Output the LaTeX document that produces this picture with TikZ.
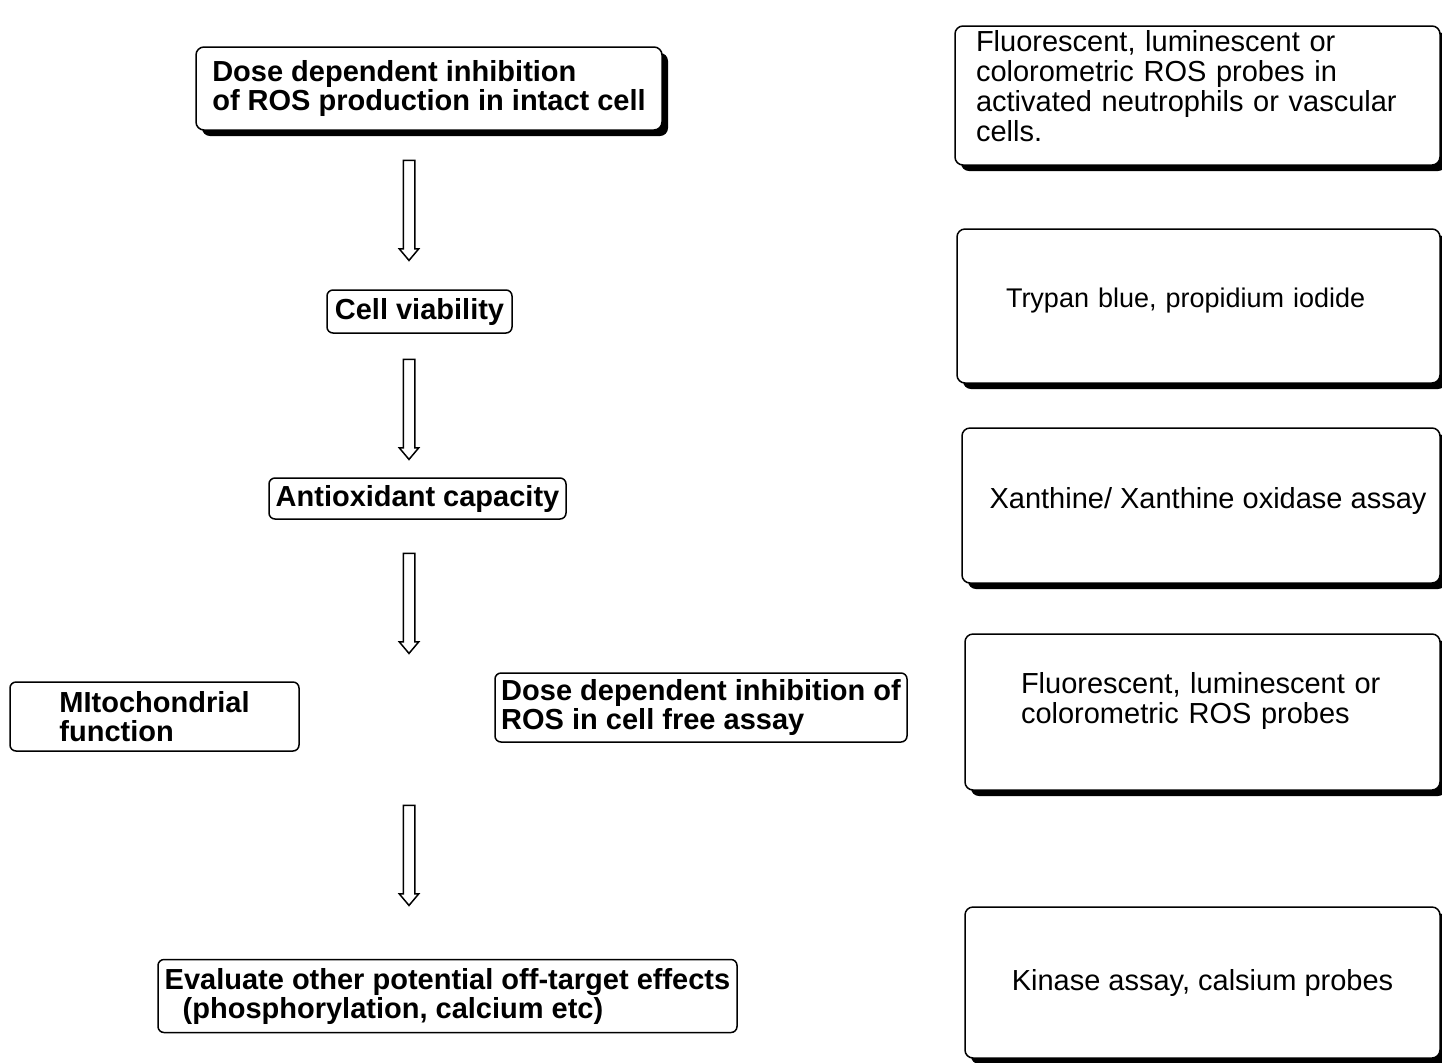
\documentclass[tikz,border=0pt]{standalone}
\usepackage{fontspec}
\setmainfont{Liberation Sans}
\usetikzlibrary{shapes.arrows, shadows, positioning}
\newcommand\flowtxt{\fontsize{14.5}{14.5}\selectfont}
\newcommand\probetxt{\fontsize{14.5}{15}\selectfont}

\begin{document}
\begin{tikzpicture}[x=0.5pt, y=-0.5pt,
        hd/.style={draw, line width=0.75pt, fill=white, rounded corners=4pt, align=left, font=\flowtxt\bfseries, drop shadow={shadow xshift=3pt, shadow yshift=-3pt, fill=black, opacity=1}},
        sm/.style={draw, line width=0.75pt, fill=white, rounded corners=3pt, align=left, inner xsep=2pt, inner ysep=2pt, font=\flowtxt\bfseries},
        probe/.style={draw, line width=0.75pt, fill=white, rounded corners=4pt, align=left, inner ysep=2pt, font=\probetxt, drop shadow={shadow xshift=3pt, shadow yshift=-3pt, fill=black, opacity=1}},
        harr/.style={single arrow, draw, line width=0.75pt, fill=white, shape border rotate=270, inner sep=2.5pt, minimum width=9pt, minimum height=50pt, single arrow head extend=2pt, single arrow tip angle=80}]
        \useasboundingbox (0,0) rectangle (1442,1062);
        \node[hd, minimum width=233pt, minimum height=41.5pt] (ros) at (429,88.5) {Dose dependent inhibition\\of ROS production in intact cell};
        \node[sm, minimum width=92.5pt, minimum height=21.5pt] (via) at (419.5,311.5) {Cell viability};
        \node[sm, minimum width=148.5pt, minimum height=20.5pt] (anti) at (417.5,498.5) {Antioxidant capacity};
        \node[sm, minimum width=144.5pt, minimum height=34.5pt] (mito) at (154.5,716.5) {MItochondrial\\function};
        \node[sm, minimum width=206pt, minimum height=34.5pt] (free) at (701,707.5) {Dose dependent inhibition of\\ROS in cell free assay};
        \node[sm, minimum width=289.5pt, minimum height=36.5pt] (off) at (447.5,996) {Evaluate other potential off-target effects\\\hspace*{9pt}(phosphorylation, calcium etc)};

        \node[harr] (a1) at (409,207) {};
        \node[harr] (a2) at (409,406) {};
        \node[harr] (a3) at (409,600) {};
        \node[harr] (a4) at (409,852) {};

        \node[probe, text width=221.5pt, inner xsep=10.5pt, minimum height=67.5pt, text depth=55pt] (fl) at (1197.5,95.5) {Fluorescent, luminescent or\\colorometric ROS probes in\\activated neutrophils or vascular\\cells.};
        \node[probe, text width=192.5pt, inner xsep=24.5pt, minimum height=77pt, text depth=8pt, font=\fontsize{13.5}{15}\selectfont] (try) at (1198.5,306) {Trypan blue, propidium iodide};
        \node[probe, minimum width=239pt, minimum height=77.5pt, text depth=8pt] (xan) at (1201,505.5) {\hspace*{7pt}Xanthine/ Xanthine oxidase assay};
        \node[probe, text width=181.5pt, inner xsep=28pt, minimum height=78pt, text depth=29pt] (flc) at (1202.5,712) {Fluorescent, luminescent or\\colorometric ROS probes};
        \node[probe, minimum width=237.5pt, minimum height=75.5pt] (kin) at (1202.5,982.5) {Kinase assay, calsium probes};
      \end{tikzpicture}
\end{document}
